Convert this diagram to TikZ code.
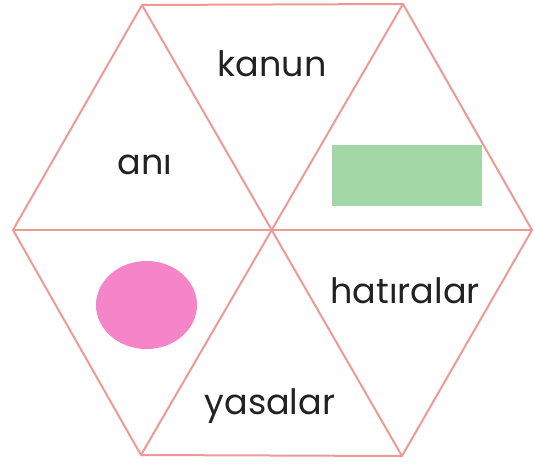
\documentclass[tikz,border=0pt]{standalone}
\usepackage{fontspec}
\setmainfont{Poppins}
\usepackage{xcolor}
\usetikzlibrary{shapes.geometric}
\definecolor{HexLine}{HTML}{EE9A94}
\definecolor{HexGreen}{HTML}{A3D7A6}
\definecolor{HexPink}{HTML}{F584C9}
\definecolor{HexText}{HTML}{222222}
\begin{document}
\begin{tikzpicture}[
    x=1pt, y=-1pt,
    edge/.style={draw=HexLine, line width=2pt, line join=round},
    word/.style={font=\fontsize{35}{40}\selectfont, text=HexText, inner sep=0pt}
]
\useasboundingbox (0,0) rectangle (535,463);
\coordinate (tl) at (142,5);
\coordinate (tr) at (403,4);
\coordinate (r) at (532,230);
\coordinate (br) at (402,456);
\coordinate (bl) at (141,455);
\coordinate (l) at (13,230);
\coordinate (c) at (272,230);

\draw[edge] (tl) -- (tr) -- (r) -- (br) -- (bl) -- (l) -- cycle;
\draw[edge] (l) -- (r);
\draw[edge] (tl) -- (br);
\draw[edge] (tr) -- (bl);

\node[fill=HexGreen, minimum width=150pt, minimum height=61pt, inner sep=0pt] (box) at (407,175.5) {};
\node[fill=HexPink, ellipse, minimum width=101pt, minimum height=88pt, inner sep=0pt] (dot) at (146.5,305) {};

\node[word] (kanun) at (272,64) {kanun};
\node[word] (ani) at (145,165) {anı};
\node[word] (hatiralar) at (405,291) {hatıralar};
\node[word] (yasalar) at (270,406) {yasalar};
\end{tikzpicture}
\end{document}
